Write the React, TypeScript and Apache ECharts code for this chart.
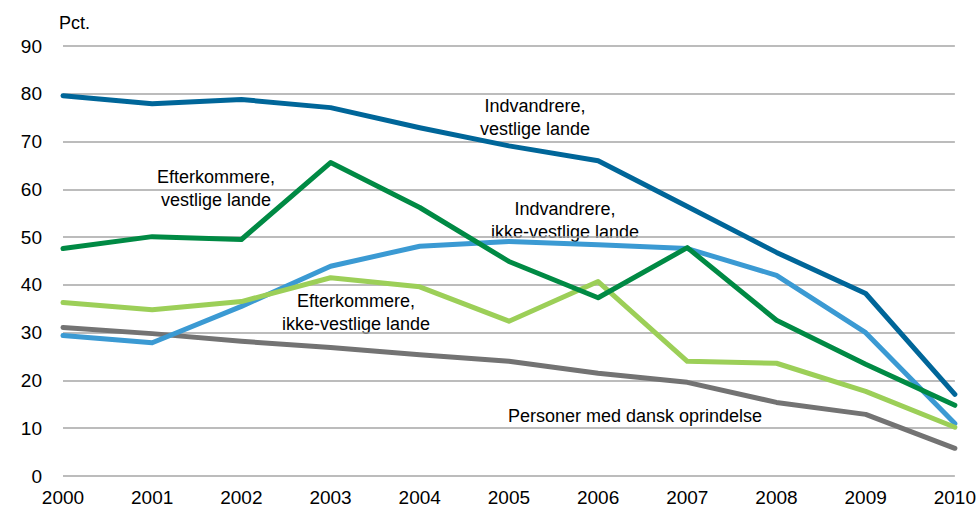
import React, { useEffect, useRef } from "react";
import * as echarts from "echarts";

const years = ["2000", "2001", "2002", "2003", "2004", "2005", "2006", "2007", "2008", "2009", "2010"];
const indvVestlige = [79.6, 77.9, 78.8, 77.1, 72.9, 69.1, 66.0, 56.4, 46.8, 38.2, 17.1];
const efterVestlige = [47.6, 50.1, 49.5, 65.6, 56.2, 44.9, 37.3, 47.8, 32.6, 23.4, 14.8];
const indvIkkeVestlige = [29.4, 27.9, 35.5, 43.9, 48.1, 49.1, 48.4, 47.6, 42.0, 30.0, 11.0];
const efterIkkeVestlige = [36.3, 34.8, 36.5, 41.5, 39.6, 32.4, 40.7, 24.0, 23.6, 17.7, 10.2];
const danskOprindelse = [31.1, 29.8, 28.2, 26.9, 25.4, 24.0, 21.5, 19.6, 15.4, 12.9, 5.8];

const FONT = "'Liberation Sans', Arial, sans-serif";

export default function App() {
  const ref = useRef<HTMLDivElement>(null);
  useEffect(() => {
    document.body.style.margin = "0";
    const chart = echarts.init(ref.current!, null, { renderer: "svg" });
    const mk = (name: string, data: number[], color: string, z: number) => ({
      name,
      type: "line",
      data,
      symbol: "none",
      z,
      lineStyle: { color, width: 5, cap: "round", join: "round" },
    });
    const label = (x: number, y: number, text: string) => ({
      type: "text",
      x,
      y,
      style: {
        text,
        font: `18px ${FONT}`,
        fill: "#000000",
        align: "center",
        verticalAlign: "middle",
        lineHeight: 23,
      },
    });
    chart.setOption({
      animation: false,
      grid: { left: 63, right: 24, top: 46, bottom: 35 },
      xAxis: {
        type: "category",
        data: years,
        boundaryGap: false,
        axisLine: { show: false },
        axisTick: { show: false },
        axisLabel: { color: "#000000", fontSize: 19, fontFamily: FONT, margin: 12 },
      },
      yAxis: {
        type: "value",
        min: 0,
        max: 90,
        interval: 10,
        name: "Pct.",
        nameLocation: "end",
        nameGap: 14,
        nameTextStyle: { color: "#000000", fontSize: 18, fontFamily: FONT, align: "left", padding: [0, 0, 0, -4] },
        axisLine: { show: false },
        axisTick: { show: false },
        axisLabel: { color: "#000000", fontSize: 19, fontFamily: FONT, margin: 21 },
        splitLine: { lineStyle: { color: "#a6a6a6", width: 1.5 } },
      },
      series: [
        mk("Personer med dansk oprindelse", danskOprindelse, "#737373", 2),
        mk("Indvandrere, ikke-vestlige lande", indvIkkeVestlige, "#3b9ad3", 3),
        mk("Efterkommere, ikke-vestlige lande", efterIkkeVestlige, "#9ccf58", 4),
        mk("Efterkommere, vestlige lande", efterVestlige, "#008a44", 5),
        mk("Indvandrere, vestlige lande", indvVestlige, "#006699", 6),
      ],
      graphic: [
        label(535, 117, "Indvandrere,\nvestlige lande"),
        label(216, 188, "Efterkommere,\nvestlige lande"),
        label(565, 220, "Indvandrere,\nikke-vestlige lande"),
        label(356, 312, "Efterkommere,\nikke-vestlige lande"),
        label(635, 416, "Personer med dansk oprindelse"),
      ],
    });
    return () => chart.dispose();
  }, []);
  return <div ref={ref} style={{ width: 979, height: 511 }} />;
}
